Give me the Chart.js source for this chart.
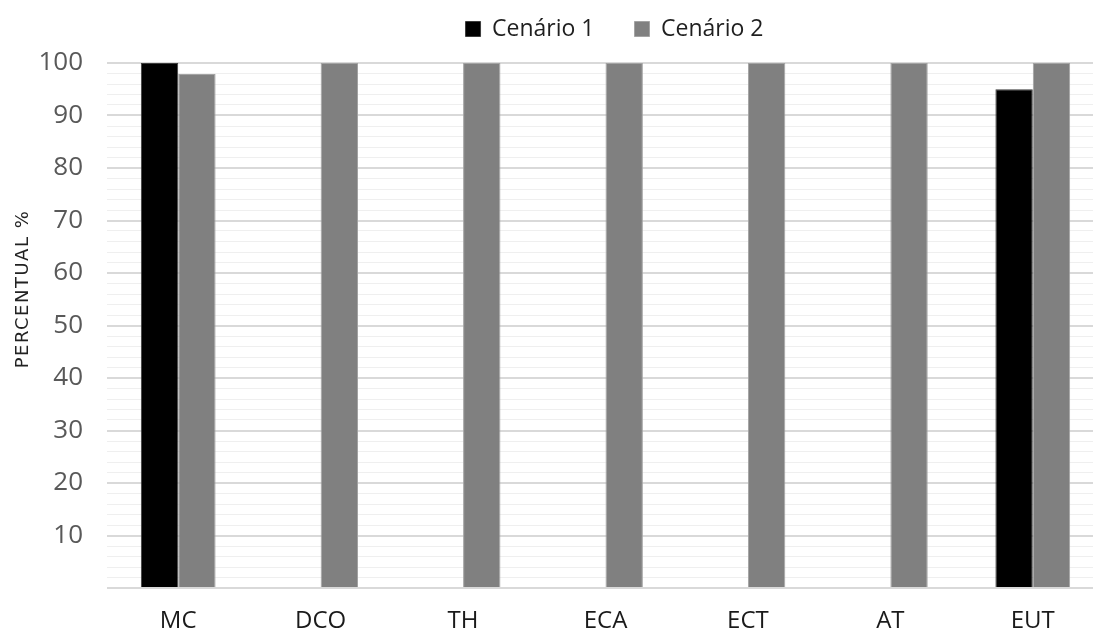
<!DOCTYPE html>
<html>
<head>
<meta charset="utf-8">
<script src="https://cdn.jsdelivr.net/npm/chart.js@4/dist/chart.umd.min.js"></script>
<style>
  html, body { margin: 0; padding: 0; overflow: hidden; background: #fff; width: 1093px; height: 633px; }
  #wrap { position: relative; width: 1104px; height: 633px; }
  canvas { display: block; }
</style>
</head>
<body>
<div id="wrap"><canvas id="chart" width="1104" height="633"></canvas></div>
<script>
// Categories along the x axis
const categories = ['MC', 'DCO', 'TH', 'ECA', 'ECT', 'AT', 'EUT'];

// Percentages per scenario
const cenario1 = [100, 0, 0, 0, 0, 0, 95];
const cenario2 = [97.9, 100, 100, 100, 100, 100, 100];

// Series names and axis text
const seriesNames = ['Cenário 1', 'Cenário 2'];
const yTickLabels = [10, 20, 30, 40, 50, 60, 70, 80, 90, 100];
const yAxisTitle = 'PERCENTUAL %';

// Rotated y-axis title, drawn a little above the axis centre
const yTitlePlugin = {
  id: 'yTitle',
  afterDraw(chart) {
    const ctx = chart.ctx;
    ctx.save();
    ctx.font = '18px "DejaVu Sans"';
    try { ctx.letterSpacing = '1.5px'; } catch (e) {}
    ctx.fillStyle = '#222222';
    ctx.translate(23, 289);
    ctx.rotate(-Math.PI / 2);
    ctx.textAlign = 'center';
    ctx.textBaseline = 'middle';
    ctx.fillText(yAxisTitle, 0, 0);
    ctx.restore();
  }
};

// Nudge the legend row a little to the right of the plot centre
const legendOffsetPlugin = {
  id: 'legendOffset',
  afterLayout(chart) {
    if (chart.legend) {
      chart.legend.left += 9;
      chart.legend.right += 9;
    }
  }
};

new Chart(document.getElementById('chart'), {
  type: 'bar',
  data: {
    labels: categories,
    datasets: [
      {
        label: seriesNames[0],
        data: cenario1,
        backgroundColor: '#000000',
        borderColor: '#3c3c3c',
        borderWidth: 1,
        categoryPercentage: 0.525,
        barPercentage: 1.0
      },
      {
        label: seriesNames[1],
        data: cenario2,
        backgroundColor: '#808080',
        borderColor: '#a3a3a3',
        borderWidth: 1,
        categoryPercentage: 0.525,
        barPercentage: 1.0
      }
    ]
  },
  options: {
    responsive: false,
    animation: false,
    devicePixelRatio: 1,
    layout: { padding: { top: -22.5, left: 0, right: 0, bottom: 0 } },
    plugins: {
      legend: {
        position: 'top',
        fullSize: false,
        labels: {
          boxWidth: 15,
          boxHeight: 15,
          padding: 40,
          color: '#1f1f1f',
          font: { family: 'Open Sans', size: 23 }
        }
      },
      // empty spacer between the legend and the plot
      subtitle: {
        display: true,
        text: '',
        position: 'top',
        fullSize: false,
        weight: 500,
        padding: 0,
        font: { size: 12.5, lineHeight: 1 }
      },
      tooltip: { enabled: false }
    },
    scales: {
      x: {
        afterFit(scale) { scale.height = 45; },
        grid: { display: false, drawTicks: false },
        border: { display: false },
        ticks: {
          padding: 19,
          color: '#1a1a1a',
          autoSkip: false,
          maxRotation: 0,
          font: { family: 'Open Sans', size: 24 }
        }
      },
      y: {
        min: 0,
        max: 100,
        afterFit(scale) { scale.width = 107; },
        border: { display: false },
        grid: {
          drawTicks: false,
          color: c => (c.tick.value % 10 === 0 ? '#d9d9d9' : '#efefef'),
          lineWidth: c => (c.tick.value % 10 === 0 ? 2 : 1)
        },
        ticks: {
          stepSize: 2,
          autoSkip: false,
          padding: 24,
          color: '#595959',
          font: { family: 'Open Sans', size: 26 },
          callback: v => (yTickLabels.includes(v) ? String(v) : '')
        }
      }
    }
  },
  plugins: [yTitlePlugin, legendOffsetPlugin]
});
</script>
</body>
</html>
